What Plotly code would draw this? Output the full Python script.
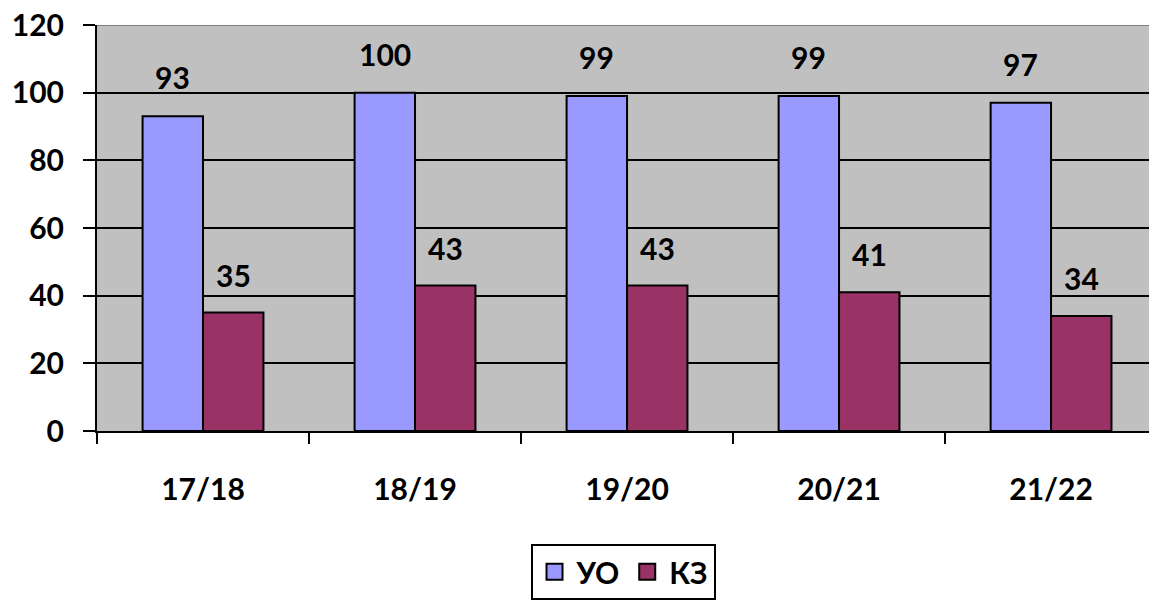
import plotly.graph_objects as go

categories = ["17/18", "18/19", "19/20", "20/21", "21/22"]
uo_values = [93, 100, 99, 99, 97]
kz_values = [35, 43, 43, 41, 34]
series_names = ["УО", "КЗ"]
series_colors = ["#9999FF", "#993366"]
y_ticks = [0, 20, 40, 60, 80, 100, 120]

FONT = "Lato"
BAR_W = 0.285
xs = list(range(len(categories)))

fig = go.Figure()
fig.add_trace(go.Bar(x=xs, y=uo_values, name=series_names[0], width=BAR_W, offset=-BAR_W,
                     showlegend=False,
                     marker=dict(color=series_colors[0], line=dict(color="black", width=2))))
fig.add_trace(go.Bar(x=xs, y=kz_values, name=series_names[1], width=BAR_W, offset=0,
                     showlegend=False,
                     marker=dict(color=series_colors[1], line=dict(color="black", width=2))))
# legend entries with larger square swatches
for name, col in zip(series_names, series_colors):
    fig.add_trace(go.Scatter(x=[None], y=[None], mode="markers", name=name,
                             marker=dict(symbol="square", size=16, color=col,
                                         line=dict(color="black", width=2))))

for i, v in enumerate(uo_values):
    fig.add_annotation(x=i - BAR_W / 2, y=v, text=str(v), showarrow=False, yshift=39,
                       font=dict(family=FONT, size=30, color="black", weight="bold"))
for i, v in enumerate(kz_values):
    fig.add_annotation(x=i + BAR_W / 2, y=v, text=str(v), showarrow=False, yshift=38,
                       font=dict(family=FONT, size=30, color="black", weight="bold"))

# top border of plot area
fig.add_shape(type="line", xref="paper", yref="y", x0=0, x1=1, y0=120, y1=120,
              line=dict(color="#808080", width=2), layer="above")

fig.update_layout(
    width=1149, height=600,
    margin=dict(l=97, r=0, t=25, b=169),
    paper_bgcolor="white", plot_bgcolor="#C0C0C0",
    barmode="overlay",
    font=dict(family=FONT, size=30, color="black", weight="bold"),
    showlegend=True,
    legend=dict(orientation="h", x=0.5, xanchor="center", y=-0.278, yanchor="top",
                bordercolor="black", borderwidth=2, bgcolor="white",
                font=dict(family=FONT, size=30, weight="bold"), itemwidth=34,
                itemsizing="trace"),
)
fig.update_xaxes(
    range=[-0.5, 4.462], tickvals=xs, ticktext=categories, ticks="", showgrid=False,
    ticklabelstandoff=31,
    showline=True, linecolor="black", linewidth=2, zeroline=False,
    minor=dict(tick0=-0.5, dtick=1, ticks="outside", ticklen=11, tickwidth=2,
               tickcolor="black", showgrid=False),
    tickfont=dict(family=FONT, size=30, weight="bold"),
)
fig.update_yaxes(
    range=[0, 120], tickvals=y_ticks, ticks="outside", ticklen=12, tickwidth=2,
    tickcolor="black", showgrid=True, gridcolor="black", gridwidth=2,
    showline=True, linecolor="black", linewidth=2, zeroline=False,
    ticklabelstandoff=13, ticklabeloverflow="allow",
    tickfont=dict(family=FONT, size=30, weight="bold"),
)

fig.write_html("out.html", config={"displayModeBar": False},
               post_script="document.body.style.margin='0';document.body.style.overflow='hidden';")
